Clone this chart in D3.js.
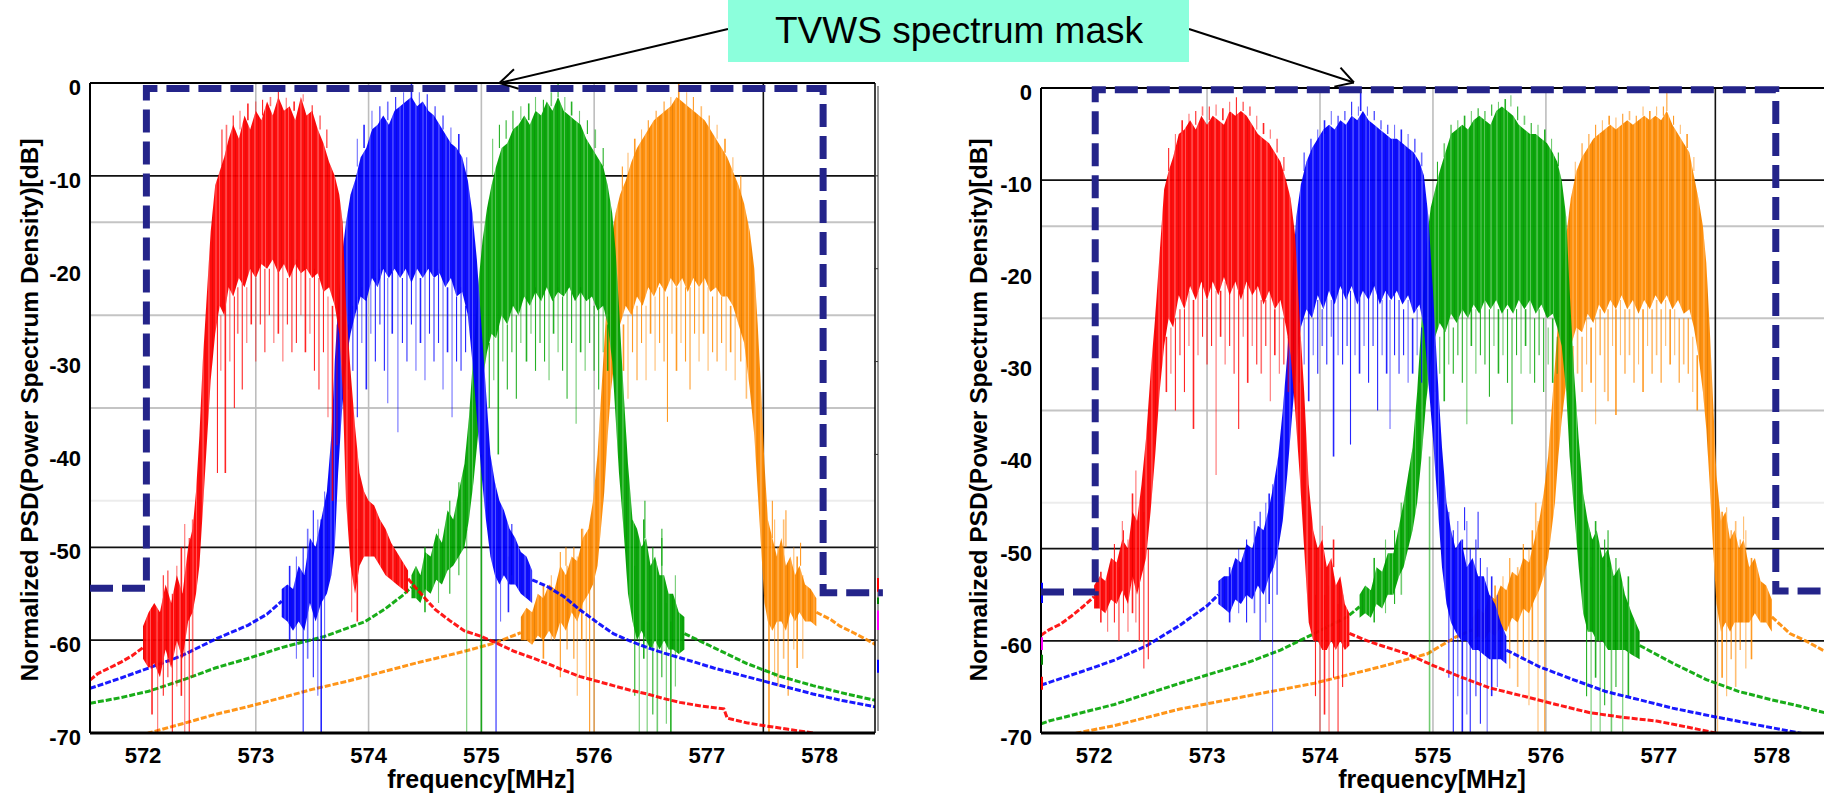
<!DOCTYPE html>
<html><head><meta charset="utf-8">
<script src="https://cdn.jsdelivr.net/npm/d3@7"></script>
<style>
body{margin:0;background:#fff}
svg{display:block}
text{font-family:"Liberation Sans",Arial,Helvetica,sans-serif}
</style>
</head><body>
<svg id="c" width="1824" height="798"></svg>
<script>
// ---------------- axes / grid ----------------
const xTicks = [572,573,574,575,576,577,578];
const yTicks = [0,-10,-20,-30,-40,-50,-60,-70];
const blackGridDb = [-10,-50,-60];
const grayGridDb = [-15,-25,-35];
const faintGridDb = [-45];
const grayGridF = [573,574,575,576];
const blackGridF = [577.5];
const xTitle = "frequency[MHz]";
const yTitle = "Normalized PSD(Power Spectrum Density)[dB]";
const titleText = "TVWS spectrum mask";
const seriesOrder = ["orange","green","blue","red"];
const seriesColors = {red:"#ff0000", blue:"#0000ff", green:"#00a400", orange:"#ff8a00"};

// ---------------- spectrum mask ----------------
const L_maskF  = [571.53,572.03,572.03,578.03,578.03,578.56];
const L_maskDb = [-54.4,-54.4,-0.6,-0.6,-54.9,-54.9];
const R_maskF  = [571.53,572.01,572.01,578.035,578.035,578.6];
const R_maskDb = [-54.7,-54.7,-0.2,-0.2,-54.6,-54.6];

// ---------------- LEFT chart ----------------
const L_red_tailL = [[571.53,-64.3],[571.6,-63.6],[571.7,-63.0],[571.8,-62.4],[571.9,-61.7],[572.0,-60.8]];
const L_red_band = [[572.0,-58.5,-62],[572.05,-57,-63],[572.1,-56,-62.5],[572.15,-57,-64],[572.2,-54,-61],[572.25,-56,-63],[572.3,-53,-60],[572.35,-55,-62],[572.4,-50,-58],[572.44,-48,-57],[572.47,-44,-55],[572.5,-38,-52],[572.53,-30,-46],[572.56,-24,-40],[572.6,-16,-32],[572.64,-11,-27],[572.68,-9.5,-24],[572.72,-8,-25],[572.76,-6,-22],[572.8,-4.5,-23],[572.85,-6,-21],[572.9,-3.5,-22],[572.95,-5,-20],[573.0,-3,-21],[573.05,-4,-19.5],[573.1,-2,-20],[573.15,-3.5,-19],[573.2,-1.5,-20.5],[573.25,-3,-19.5],[573.3,-2.5,-21],[573.35,-4,-19.5],[573.4,-1.5,-20.5],[573.45,-3.5,-20],[573.5,-3,-21],[573.55,-5,-20.5],[573.6,-6.5,-22.5],[573.65,-8.5,-22],[573.7,-10,-24],[573.74,-12,-27],[573.77,-15,-33],[573.8,-24,-45],[573.84,-31,-52],[573.88,-37,-55],[573.92,-42,-52],[573.96,-44,-51],[574.0,-45,-51],[574.05,-45.5,-51],[574.1,-47,-52],[574.15,-48,-53],[574.2,-49.5,-53.5],[574.25,-50.5,-54],[574.3,-51.5,-54.5],[574.35,-52.5,-55]];
const L_red_tailR = [[574.35,-53.4],[574.45,-54.8],[574.59,-56.7],[574.72,-57.9],[574.85,-59.0],[575.0,-59.6],[575.15,-60.4],[575.29,-61.2],[575.45,-61.9],[575.58,-62.5],[575.72,-63.2],[575.87,-63.9],[576.02,-64.4],[576.17,-64.9],[576.32,-65.4],[576.47,-65.8],[576.62,-66.3],[576.76,-66.7],[576.95,-67.1],[577.15,-67.4],[577.18,-68.4],[577.35,-68.9],[577.5,-69.2],[577.72,-69.6],[577.94,-70.0],[578.2,-70.6],[578.5,-71.2]];
const L_red_spikes = [[572.08,-56.5,-68],[572.13,-58,-70],[572.18,-53,-66],[572.22,-52.5,-64],[572.26,-55,-70],[572.3,-52,-65],[572.34,-50,-66],[572.37,-47.5,-70],[572.41,-49,-70],[572.44,-47,-64],
 [572.66,-24,-42],[572.69,-25,-31],[572.73,-23,-42],[572.77,-22,-30],[572.81,-23,-35],[572.84,-22,-27],[572.88,-21,-33],[572.92,-22,-28],[572.96,-20,-26],[573.0,-21,-30],[573.04,-19,-26],[573.08,-20,-29],[573.12,-20,-25],[573.16,-19,-28],[573.2,-20,-27],[573.24,-19,-30],[573.28,-21,-26],[573.32,-20,-29],[573.36,-19,-28],[573.4,-20,-25],[573.44,-20,-29],[573.48,-21,-27],[573.52,-20,-31],[573.56,-21,-33],[573.6,-22,-29],[573.64,-23,-36],[573.68,-24,-45],[573.72,-26,-39],
 [572.7,-9,-5],[572.74,-8,-4.5],[572.8,-6,-3.5],[572.86,-5,-3],[572.93,-4,-2.2],[573.0,-3.5,-2],[573.06,-3.5,-1.8],[573.13,-2.5,-1.5],[573.2,-2,-0.4],[573.27,-3,-1.6],[573.34,-3,-2],[573.42,-2,-1.2],[573.5,-3.5,-2.4],[573.57,-5,-3.5],[573.63,-7,-5],
 [573.85,-45,-57],[573.9,-48,-58]];

const L_blue_tailL = [[571.53,-65.2],[571.8,-64.1],[572.05,-63.0],[572.34,-61.7],[572.64,-59.9],[572.93,-58.4],[573.1,-57.2],[573.23,-55.8]];
const L_blue_band = [[573.23,-54.5,-57.5],[573.28,-54,-58],[573.33,-54.5,-59],[573.38,-52,-58],[573.43,-53,-59],[573.48,-49,-56],[573.53,-50,-58],[573.58,-47,-56],[573.63,-44,-55],[573.67,-38,-53],[573.7,-30,-50],[573.73,-24,-42],[573.76,-19,-36],[573.8,-15,-30],[573.84,-12,-27],[573.88,-10.5,-25],[573.93,-8,-23],[573.98,-7,-23.5],[574.03,-5,-21],[574.08,-4.5,-22],[574.13,-3.5,-20],[574.18,-4.5,-21],[574.23,-3,-20],[574.28,-2.5,-21],[574.33,-2,-20],[574.38,-1.5,-21.5],[574.43,-2.5,-20],[574.48,-2,-21],[574.53,-3,-20],[574.58,-3.5,-21],[574.63,-4.5,-20.5],[574.68,-5.5,-22],[574.73,-6.5,-21],[574.78,-7,-23],[574.83,-8,-22.5],[574.88,-10.5,-25],[574.92,-14,-30],[574.96,-19,-36],[575.0,-26,-42],[575.04,-33,-47],[575.08,-40,-51],[575.12,-43,-53],[575.16,-45,-54],[575.2,-46,-53],[575.25,-48,-54],[575.3,-49,-54],[575.35,-50.5,-55],[575.4,-51,-55.5],[575.45,-52.5,-56]];
const L_blue_tailR = [[575.45,-53.5],[575.58,-54.2],[575.73,-55.3],[575.87,-56.7],[576.05,-58.3],[576.17,-59.3],[576.32,-60.1],[576.47,-60.8],[576.62,-61.4],[576.76,-61.9],[576.9,-62.4],[577.06,-63.0],[577.28,-63.7],[577.5,-64.4],[577.72,-65.1],[577.94,-65.8],[578.2,-66.5],[578.5,-67.2]];
const L_blue_spikes = [[573.3,-52,-60],[573.36,-51,-62],[573.42,-50,-70],[573.46,-48,-62],[573.51,-46,-64],[573.55,-47,-66],[573.58,-47,-70],[573.61,-44,-60],
 [573.82,-26,-33],[573.86,-24,-31],[573.9,-23,-36],[573.94,-22,-28],[573.98,-23,-33],[574.02,-21,-27],[574.06,-21,-30],[574.1,-20,-26],[574.14,-20,-31],[574.17,-21,-34.5],[574.21,-20,-27],[574.26,-20,-37.6],[574.3,-21,-28],[574.34,-20,-30],[574.38,-21,-26],[574.42,-20,-31],[574.46,-21,-28],[574.5,-20,-32],[574.54,-20,-27],[574.58,-21,-30],[574.62,-20,-28],[574.66,-21,-33],[574.7,-22,-29],[574.74,-21,-36],[574.78,-23,-30],[574.82,-22,-31],[574.86,-24,-29],
 [573.9,-9,-6],[573.96,-7,-4.5],[574.03,-5,-3],[574.1,-4.5,-2.5],[574.17,-4,-2],[574.24,-3,-1.5],[574.31,-2.5,-1],[574.38,-2,0],[574.45,-2.5,-1],[574.52,-3,-1.2],[574.59,-4,-2.5],[574.66,-5,-3.5],[574.73,-6.5,-4.8],[574.8,-7.5,-5.5],[574.87,-10,-8],
 [575.13,-50,-70],[575.2,-53,-46.5],[575.27,-53,-47.5],[575.17,-50,-58],[575.24,-51,-57]];

const L_green_tailL = [[571.53,-66.8],[571.8,-66.2],[572.05,-65.5],[572.35,-64.3],[572.64,-63.0],[572.95,-61.9],[573.23,-60.8],[573.61,-59.6],[573.97,-58.0],[574.15,-56.6],[574.3,-55.2],[574.38,-54.3]];
const L_green_band = [[574.38,-53,-55.5],[574.42,-52,-55.5],[574.46,-53,-56],[574.5,-50.5,-54.5],[574.55,-51,-55],[574.6,-48.5,-53.5],[574.65,-49.5,-54],[574.7,-46,-52.5],[574.75,-47,-52],[574.8,-44,-51],[574.85,-41,-50],[574.89,-36,-47],[574.93,-29,-43],[574.97,-22,-38],[575.01,-17,-32],[575.05,-13.5,-29],[575.09,-11,-27],[575.13,-9,-27.5],[575.18,-7,-25],[575.23,-6.5,-26],[575.28,-5,-24],[575.33,-4.5,-25],[575.38,-3.5,-23],[575.43,-4.5,-24],[575.48,-3,-22.5],[575.53,-3.5,-23.5],[575.58,-2,-22],[575.63,-3,-23.5],[575.68,-1.5,-22.5],[575.73,-3,-23],[575.78,-3.5,-22],[575.83,-4,-23.5],[575.88,-4.5,-22.5],[575.93,-6,-23.5],[575.98,-7,-23],[576.03,-8,-24.5],[576.08,-9,-24],[576.12,-11,-26],[576.16,-14,-30],[576.19,-18,-36],[576.22,-24,-42],[576.26,-33,-48],[576.3,-41,-55],[576.34,-47,-58],[576.38,-48,-60],[576.42,-50,-59],[576.46,-49,-60],[576.5,-52,-61],[576.54,-51,-60],[576.58,-53,-61],[576.62,-53,-60],[576.66,-55,-61],[576.7,-55,-61],[576.75,-57,-61.5],[576.8,-57.5,-61]];
const L_green_tailR = [[576.8,-59.3],[577.06,-60.8],[577.35,-62.5],[577.65,-63.9],[577.94,-64.9],[578.24,-65.8],[578.5,-66.5]];
const L_green_spikes = [[574.5,-50,-57],[574.62,-48,-56],[574.72,-45,-55],[574.8,-43,-53],
 [576.36,-52,-66],[576.4,-55,-70],[576.44,-47,-62],[576.47,-58,-70],[576.52,-50,-68],[576.56,-60,-70],[576.6,-49,-64],[576.64,-56,-69],[576.68,-58,-70],[576.72,-53,-65],[576.45,-49,-45],[576.6,-52,-48],
 [575.07,-28,-35],[575.11,-27,-32],[575.15,-26,-40],[575.19,-25,-30],[575.23,-26,-33],[575.27,-24,-29],[575.31,-25,-34],[575.35,-23,-28],[575.4,-23,-30],[575.44,-23,-27],[575.48,-22,-31],[575.52,-23,-28],[575.56,-22,-30],[575.6,-22,-32],[575.64,-23,-27],[575.68,-22,-29],[575.72,-23,-31],[575.76,-22,-34],[575.8,-22,-28],[575.84,-23,-36.7],[575.88,-22,-29],[575.92,-23,-31],[575.96,-23,-28],[576.0,-24,-31],[576.04,-24,-33],[576.08,-24,-29],[576.12,-26,-31],
 [575.1,-10,-6],[575.16,-7,-4.5],[575.22,-6,-4],[575.28,-5,-3],[575.35,-4,-2.5],[575.42,-4,-2.2],[575.48,-3,-1.5],[575.55,-3,-1.8],[575.62,-2.5,-1],[575.68,-1.5,0],[575.74,-3,-1.5],[575.8,-3.5,-2],[575.87,-4.5,-3],[575.94,-5.5,-4],[576.01,-7,-5],[576.08,-9,-7],
 [574.87,-48,-70],[575.0,-40,-70]];

const L_orange_tailL = [[571.9,-70.6],[572.05,-70.0],[572.35,-69.0],[572.64,-68.0],[572.95,-67.1],[573.23,-66.2],[573.5,-65.3],[573.82,-64.4],[574.1,-63.5],[574.41,-62.5],[574.65,-61.8],[574.85,-61.2],[575.12,-60.3],[575.35,-59.2]];
const L_orange_band = [[575.35,-57.5,-60],[575.4,-56.5,-60],[575.45,-57,-60.5],[575.5,-55,-59.5],[575.55,-55.5,-60],[575.6,-54,-59],[575.65,-54.5,-60],[575.7,-52,-58],[575.75,-53,-59],[575.8,-51,-57],[575.85,-51.5,-58],[575.9,-49,-56],[575.95,-48,-55],[575.99,-45,-54],[576.03,-40,-52],[576.06,-34,-48],[576.09,-28,-44],[576.12,-22,-38],[576.15,-17,-33],[576.19,-14,-29],[576.23,-12,-26],[576.28,-10.5,-24],[576.33,-8.5,-25],[576.38,-7,-23],[576.43,-6,-24],[576.48,-5,-22],[576.53,-4,-23],[576.58,-3.5,-21.5],[576.63,-3,-22.5],[576.68,-2.5,-21],[576.73,-1.5,-22],[576.78,-2,-21],[576.83,-2.5,-22.5],[576.88,-3,-21],[576.93,-3.5,-22],[576.98,-4,-21],[577.03,-5,-22.5],[577.08,-6,-22],[577.13,-7,-23],[577.18,-8,-23],[577.23,-9.5,-24],[577.28,-11,-26],[577.33,-13,-28],[577.38,-16,-33],[577.42,-20,-38],[577.45,-26,-44],[577.48,-33,-50],[577.51,-41,-56],[577.54,-47,-58],[577.58,-49,-59],[577.62,-51,-58],[577.66,-49,-58],[577.7,-52,-59],[577.74,-51,-57],[577.78,-53,-58],[577.82,-52,-57],[577.87,-54,-58],[577.92,-54.5,-58],[577.97,-55.5,-58.5]];
const L_orange_tailR = [[577.97,-57.0],[578.1,-57.8],[578.18,-58.5],[578.3,-59.2],[578.47,-60.3],[578.5,-60.5]];
const L_orange_spikes = [[575.55,-54,-62],[575.62,-53,-60],[575.7,-50.5,-64],[575.76,-52,-61],[575.82,-50,-62],[575.85,-51,-66],[575.89,-48,-60],[575.93,-50,-64],[575.96,-48,-70],[576.0,-47,-70],[575.75,-52,-50],[575.9,-50,-48],
 [577.55,-50,-70],[577.6,-47,-64],[577.63,-50,-65],[577.68,-47,-62],[577.72,-52,-66],[577.77,-50,-61],[577.8,-51,-63],[577.85,-53,-62],[577.58,-49,-45],[577.7,-50,-46],[577.83,-52,-49.5],
 [576.22,-27,-34],[576.26,-26,-31],[576.3,-25,-34],[576.34,-24,-29],[576.38,-24,-32],[576.42,-23,-28],[576.46,-24,-32],[576.5,-22,-27],[576.54,-23,-31],[576.58,-22,-28],[576.62,-22,-30],[576.65,-23,-36.5],[576.69,-21,-27],[576.73,-22,-31],[576.77,-21,-28],[576.81,-22,-30],[576.85,-22,-33],[576.89,-21,-27],[576.93,-22,-30],[576.97,-21,-27],[577.01,-22,-31],[577.05,-23,-29],[577.09,-22,-30],[577.13,-23,-28],[577.17,-23,-31],[577.21,-24,-29],[577.25,-25,-32],[577.3,-26,-30],[577.35,-28,-34],
 [576.25,-12,-9],[576.3,-10,-7.5],[576.36,-8,-6],[576.42,-7,-5],[576.48,-5.5,-4],[576.55,-4.5,-3],[576.62,-3.5,-2],[576.68,-3,-1.5],[576.75,-2,0],[576.82,-2.5,-1],[576.88,-3,-1.5],[576.95,-4,-2.5],[577.02,-5,-3.5],[577.09,-6,-4.5],[577.16,-7.5,-6],[577.23,-9.5,-8],[577.3,-12,-10]];

// ---------------- RIGHT chart ----------------
const R_red_tailL = [[571.53,-59.4],[571.6,-58.8],[571.7,-58.2],[571.8,-57.3],[571.9,-56.3],[572.0,-55.2]];
const R_red_band = [[572.0,-54,-56.5],[572.05,-53,-56.5],[572.1,-53.5,-57],[572.15,-51,-55.5],[572.2,-51.5,-56],[572.25,-49,-54.5],[572.3,-50,-56],[572.34,-46,-53],[572.38,-47,-55],[572.42,-43,-53],[572.46,-38,-51],[572.5,-31,-46],[572.54,-25,-40],[572.58,-18,-33],[572.62,-11,-28],[572.66,-9,-25],[572.7,-7.5,-26],[572.75,-5,-22.5],[572.8,-4.5,-24],[572.85,-3.5,-21.5],[572.9,-4.5,-23],[572.95,-3,-21],[573.0,-4,-23],[573.05,-3,-21],[573.1,-3.5,-22.5],[573.15,-4,-20.5],[573.2,-2.5,-22.5],[573.25,-3,-21],[573.3,-2.5,-23],[573.35,-3,-21],[573.4,-4,-22.5],[573.45,-5,-21.5],[573.5,-5.5,-23.5],[573.55,-6,-22],[573.6,-7,-24],[573.65,-8,-23],[573.7,-10,-26],[573.74,-12,-29],[573.78,-16,-35],[573.82,-25,-42],[573.86,-33,-50],[573.9,-43,-58],[573.94,-48,-60],[573.98,-50,-60],[574.02,-49,-61],[574.06,-52,-61],[574.1,-51,-60],[574.14,-54,-61],[574.18,-53,-60],[574.22,-56,-61],[574.26,-57,-60.5]];
const R_red_tailR = [[574.26,-59.2],[574.42,-60.0],[574.54,-60.5],[574.77,-61.4],[574.95,-62.4],[575.2,-63.7],[575.5,-65.1],[575.8,-66.0],[576.09,-66.9],[576.39,-67.8],[576.68,-68.3],[576.98,-68.7],[577.27,-69.4],[577.5,-70.0],[577.8,-70.7]];
const R_red_spikes = [[572.06,-52.5,-58],[572.12,-53,-59],[572.18,-49.5,-58],[572.22,-52,-60],[572.26,-48,-57],[572.3,-49,-59],[572.34,-44,-57],[572.37,-41.5,-58],[572.4,-47,-60],[572.44,-46,-63],[572.48,-50,-62],[572.25,-50,-47],
 [572.64,-27,-33],[572.68,-26,-31],[572.72,-25,-35],[572.76,-24,-29],[572.8,-24,-33],[572.84,-22,-28],[572.88,-23,-37],[572.92,-22,-29],[572.96,-21,-27],[573.0,-23,-30],[573.04,-21,-28],[573.08,-22,-42],[573.12,-22,-27],[573.16,-21,-30],[573.2,-22,-28],[573.24,-21,-31],[573.28,-22,-37],[573.32,-22,-27],[573.36,-21,-32],[573.4,-22,-28],[573.44,-21,-30],[573.48,-23,-31],[573.52,-23,-28],[573.56,-22,-34],[573.6,-24,-29],[573.64,-23,-31],[573.68,-25,-30],[573.72,-27,-33],
 [572.66,-9,-6.5],[572.72,-7,-5],[572.78,-5,-3.5],[572.84,-4,-2.8],[572.9,-4,-2.5],[572.96,-3,-2],[573.02,-3.5,-2],[573.08,-3,-1.8],[573.14,-3.5,-2.2],[573.2,-2.5,-1.5],[573.26,-3,-1],[573.32,-2.5,-1.5],[573.38,-3,-2],[573.44,-4.5,-3],[573.5,-5,-3.8],[573.56,-5.5,-4.5],[573.62,-7,-5.5],[573.68,-9,-7.5],
 [573.96,-55,-66],[574.0,-52,-70],[574.04,-55,-68],[574.08,-54,-70],[574.12,-53,-64],[574.16,-56,-70],[574.2,-55,-65],[574.02,-50,-47.5],[574.12,-52,-49]];

const R_blue_tailL = [[571.53,-64.8],[571.9,-63.3],[572.18,-62.1],[572.47,-60.5],[572.76,-58.3],[573.0,-56.2],[573.1,-55.0]];
const R_blue_band = [[573.1,-53.5,-56],[573.15,-53,-56.5],[573.2,-53,-57],[573.25,-51,-55.5],[573.3,-51.5,-56],[573.35,-49.5,-55],[573.4,-50,-55.5],[573.45,-47.5,-54],[573.5,-48,-55],[573.55,-45.5,-53],[573.59,-43,-52],[573.63,-40,-50],[573.67,-35,-47],[573.71,-29,-42],[573.75,-21,-36],[573.79,-14,-30],[573.83,-10.5,-26],[573.88,-8,-24],[573.93,-6.5,-25],[573.98,-5.5,-22.5],[574.03,-4.5,-24],[574.08,-4,-22],[574.13,-4.5,-23.5],[574.18,-3.5,-21.5],[574.23,-4,-23],[574.28,-3,-21.5],[574.33,-3.5,-23.5],[574.38,-2.5,-22],[574.43,-3.5,-23],[574.48,-4,-21.5],[574.53,-4.5,-23.5],[574.58,-5,-22],[574.63,-5.5,-23],[574.68,-5.5,-22],[574.73,-6,-23.5],[574.78,-6.5,-22.5],[574.83,-7,-24.5],[574.88,-8,-23.5],[574.92,-9.5,-26],[574.96,-14,-32],[575.0,-22,-38],[575.04,-31,-45],[575.08,-39,-52],[575.12,-45,-56],[575.16,-48,-58],[575.2,-50,-59],[575.25,-49,-60],[575.3,-52,-60],[575.35,-51,-61],[575.4,-53,-61],[575.45,-53,-61.5],[575.5,-55,-62],[575.55,-56,-62],[575.6,-58,-62],[575.65,-59.5,-62.5]];
const R_blue_tailR = [[575.65,-61.0],[575.94,-62.8],[576.24,-64.2],[576.53,-65.5],[576.83,-66.4],[577.12,-67.3],[577.48,-68.2],[577.86,-69.1],[578.16,-69.8],[578.5,-70.6]];
const R_blue_spikes = [[573.2,-52,-58],[573.28,-50,-57],[573.35,-49,-58],[573.42,-47,-57],[573.47,-46,-60],[573.52,-45,-58],[573.55,-44,-56],[573.58,-43,-70],[573.62,-42,-55],
 [575.14,-46,-64],[575.18,-48,-70],[575.22,-47,-66],[575.26,-49,-70],[575.3,-47,-68],[575.33,-50,-70],[575.38,-49,-66],[575.42,-51,-69],[575.48,-52,-70],[575.52,-53,-66],[575.57,-55,-65],[575.28,-48,-45.5],[575.4,-50,-46],
 [573.82,-27,-32],[573.86,-25,-30],[573.9,-24,-34],[573.94,-25,-29],[573.98,-23,-31],[574.02,-24,-28],[574.06,-22,-30],[574.1,-23,-27],[574.12,-22,-40],[574.16,-22,-29],[574.2,-21,-30],[574.24,-22,-28],[574.27,-22,-38.7],[574.31,-22,-29],[574.35,-22,-31],[574.39,-22,-28],[574.43,-22,-32],[574.47,-21,-28],[574.51,-22,-35],[574.55,-23,-29],[574.59,-22,-31],[574.62,-23,-37],[574.66,-22,-29],[574.7,-23,-31],[574.74,-24,-29],[574.78,-23,-32],[574.82,-25,-31],[574.86,-24,-29],[574.9,-26,-32],
 [573.86,-9,-7],[573.92,-7,-5.5],[573.98,-6,-4.5],[574.04,-5,-3.5],[574.1,-4,-2.5],[574.16,-4,-3],[574.22,-3.5,-2.5],[574.28,-3,-1.5],[574.34,-3,-2],[574.36,-2.5,-0.5],[574.42,-3,-2],[574.48,-3.5,-2.5],[574.54,-4.5,-3.5],[574.6,-5,-4],[574.66,-5.5,-4],[574.72,-6,-4.5],[574.78,-6.5,-5],[574.84,-7,-5.5],[574.9,-8.5,-7]];

const R_green_tailL = [[571.53,-69.0],[571.6,-68.7],[572.18,-66.9],[572.76,-64.6],[573.35,-62.4],[573.65,-61.0],[573.95,-59.2],[574.24,-57.4],[574.35,-56.3]];
const R_green_band = [[574.35,-55,-57.5],[574.4,-54,-57],[574.45,-54.5,-57.5],[574.5,-52,-56],[574.55,-52.5,-56.5],[574.6,-50.5,-55],[574.65,-50.5,-55],[574.7,-47.5,-53],[574.74,-45,-52],[574.78,-42,-50],[574.82,-39,-48],[574.86,-33,-45],[574.9,-25,-40],[574.94,-17,-34],[574.98,-13,-30],[575.02,-11,-27],[575.06,-9,-25.5],[575.11,-7,-26.5],[575.16,-5,-24.5],[575.21,-4.5,-25.5],[575.26,-4,-24],[575.31,-4.5,-25],[575.36,-3.5,-23.5],[575.41,-3,-24.5],[575.46,-3.5,-23],[575.51,-4,-24],[575.56,-2.5,-23],[575.61,-2,-24.5],[575.66,-2.5,-23.5],[575.71,-3,-24.5],[575.76,-4,-23],[575.81,-4.5,-24],[575.86,-5,-23],[575.91,-5,-24.5],[575.96,-5.5,-23.5],[576.01,-6,-25],[576.06,-7,-24.5],[576.1,-8,-26],[576.14,-10,-28],[576.18,-14,-33],[576.21,-22,-40],[576.25,-31,-46],[576.29,-38,-52],[576.33,-44,-57],[576.37,-47,-59],[576.41,-49,-59],[576.45,-48,-60],[576.5,-51,-60],[576.55,-50,-61],[576.6,-53,-61],[576.65,-52,-61],[576.7,-55,-61],[576.76,-57,-61.5],[576.83,-59,-62]];
const R_green_tailR = [[576.83,-60.5],[577.12,-62.4],[577.42,-64.2],[577.71,-65.5],[578.0,-66.4],[578.25,-67.1],[578.5,-67.9]];
const R_green_spikes = [[574.48,-51,-58],[574.58,-49,-57],[574.66,-48,-56],[574.72,-45,-55],
 [576.36,-50,-66],[576.4,-52,-70],[576.44,-47,-64],[576.48,-55,-70],[576.52,-49,-67],[576.58,-54,-70],[576.62,-51,-65],[576.68,-55,-70],[576.73,-53,-66],[576.39,-50,-48.2],[576.55,-52,-48],
 [574.97,-40,-70],
 [575.02,-28,-33],[575.06,-27,-31],[575.1,-26,-34],[575.14,-25,-30],[575.18,-26,-31],[575.22,-25,-29],[575.26,-24,-32],[575.3,-25,-36.5],[575.34,-24,-28],[575.38,-24,-31],[575.42,-24,-29],[575.46,-23,-30],[575.5,-24,-33.5],[575.54,-23,-28],[575.58,-24,-31],[575.62,-24,-29],[575.66,-24,-32],[575.7,-25,-36.5],[575.74,-24,-29],[575.78,-23,-31],[575.82,-24,-28],[575.86,-23,-31],[575.9,-25,-32],[575.94,-24,-29],[575.98,-25,-33],[576.02,-26,-30],[576.06,-25,-32],[576.1,-27,-31],
 [575.04,-10,-8],[575.1,-7.5,-6],[575.16,-5.5,-4],[575.22,-5,-3.5],[575.28,-4.5,-3],[575.34,-4,-2.5],[575.4,-3.5,-2.2],[575.46,-3.5,-2.5],[575.52,-3,-1.8],[575.58,-2.5,-1.5],[575.64,-2.5,-1.2],[575.69,-2,-0.8],[575.75,-3.5,-2],[575.81,-4,-3],[575.87,-5,-3.8],[575.93,-5.5,-4],[575.99,-6,-4.5],[576.05,-7,-5.5],[576.11,-8.5,-7]];

const R_orange_tailL = [[571.7,-70.5],[571.85,-70.0],[572.18,-69.2],[572.76,-67.4],[573.35,-66.0],[573.95,-64.6],[574.54,-62.8],[574.95,-61.4],[575.2,-59.6],[575.35,-58.8]];
const R_orange_band = [[575.35,-57.5,-60],[575.4,-56.5,-59.5],[575.45,-57,-60],[575.5,-55,-59],[575.55,-55.5,-59.5],[575.6,-54,-58.5],[575.65,-54.5,-59],[575.7,-52.5,-57.5],[575.75,-53,-58],[575.8,-51,-56.5],[575.85,-51.5,-57],[575.9,-49,-55.5],[575.94,-47,-54.5],[575.98,-44,-53],[576.02,-40,-51],[576.05,-35,-48],[576.08,-30,-45],[576.11,-25,-40],[576.14,-20,-36],[576.18,-16,-32],[576.22,-12,-28],[576.27,-9,-26],[576.32,-7.5,-26.5],[576.37,-6.5,-24.5],[576.42,-5.5,-25.5],[576.47,-5,-23.5],[576.52,-4.5,-24.5],[576.57,-4,-23],[576.62,-4.5,-24],[576.67,-4,-22.5],[576.72,-3.5,-24],[576.77,-4,-23],[576.82,-3.5,-24.5],[576.87,-3,-23],[576.92,-3.5,-24],[576.97,-3,-22.5],[577.02,-3.5,-23.5],[577.07,-2.5,-22.5],[577.12,-4,-24],[577.17,-5,-23],[577.22,-6,-24.5],[577.27,-7,-24],[577.31,-9.5,-26],[577.35,-12,-29],[577.39,-15,-33],[577.42,-19,-37],[577.45,-26,-43],[577.48,-34,-50],[577.51,-42,-56],[577.55,-47,-59],[577.59,-46,-58],[577.63,-49,-59],[577.67,-48,-58],[577.71,-50,-58],[577.75,-49,-58],[577.8,-52,-58],[577.85,-51,-57],[577.9,-53.5,-58],[577.95,-54,-58],[578.0,-55.5,-59]];
const R_orange_tailR = [[578.0,-57.4],[578.16,-59.2],[578.3,-60.0],[578.45,-61.0],[578.6,-61.8]];
const R_orange_spikes = [[575.55,-54,-61],[575.62,-53,-60],[575.68,-51,-63],[575.75,-52,-65],[575.8,-50,-62],[575.85,-50,-67],[575.88,-48,-60],[575.93,-47,-70],[575.99,-46,-70],[575.91,-50,-45],[575.8,-53,-49.5],
 [577.52,-50,-70],[577.56,-46,-64],[577.6,-45.5,-66],[577.64,-48,-62],[577.68,-47,-65],[577.72,-49,-61],[577.77,-48,-63],[577.82,-51,-62],[577.75,-49,-46.5],
 [576.24,-28,-33],[576.28,-26,-31],[576.32,-27,-33],[576.36,-25,-30],[576.4,-26,-32],[576.44,-25,-36.5],[576.48,-24,-29],[576.52,-25,-33],[576.55,-24,-34],[576.59,-23,-28],[576.62,-24,-35.5],[576.66,-23,-29],[576.7,-24,-31],[576.74,-24,-29],[576.78,-23,-32],[576.82,-25,-30],[576.86,-24,-33],[576.9,-23,-28],[576.94,-24,-31],[576.98,-23,-29],[577.02,-24,-32],[577.06,-23,-28],[577.1,-24,-30],[577.14,-24,-29],[577.18,-25,-32],[577.22,-25,-30],[577.26,-25,-31],[577.3,-27,-33],[577.34,-29,-35],
 [576.26,-10,-8],[576.32,-8,-6],[576.38,-6.5,-5],[576.44,-5.5,-4],[576.5,-5,-3.5],[576.56,-4,-3],[576.62,-4.5,-3.2],[576.68,-4,-2.8],[576.74,-3.5,-2.5],[576.8,-4,-3],[576.86,-3,-2],[576.92,-3.5,-2.5],[576.98,-3,-2],[577.04,-3,-2],[577.07,-2.5,-0.5],[577.13,-4,-3],[577.19,-5,-4],[577.25,-6.5,-5],[577.31,-9,-7.5]];

// small coloured marks at the chart edges (clipped legend remnants)
const L_edgeMarks = [["red",-53.3,-54.8],["green",-55.4,-56.1],["#ff00ff",-56.8,-58.9],["blue",-62.1,-63.5]];
const R_edgeMarks = [["blue",-53.7,-55.9],["#ff00ff",-59.6,-61.0],["green",-61.5,-62.6],["red",-63.9,-65.3]];

// ---------------- assemble ----------------
const charts = [
  {id:"L", xDomain:[571.53,578.49], xRange:[90,875], yRange:[733,83], maskF:L_maskF, maskDb:L_maskDb,
   series:{red:{tailL:L_red_tailL,band:L_red_band,tailR:L_red_tailR,spikes:L_red_spikes},
           blue:{tailL:L_blue_tailL,band:L_blue_band,tailR:L_blue_tailR,spikes:L_blue_spikes},
           green:{tailL:L_green_tailL,band:L_green_band,tailR:L_green_tailR,spikes:L_green_spikes},
           orange:{tailL:L_orange_tailL,band:L_orange_band,tailR:L_orange_tailR,spikes:L_orange_spikes}},
   edgeMarks:L_edgeMarks, edgeX:878, rightAxis:true, yTitleX:38, xTitleX:481, arrow:{f:575.16,db:0,from:[728,29]}},
  {id:"R", xDomain:[571.53,578.5], xRange:[1041,1828.3], yRange:[733,88], maskF:R_maskF, maskDb:R_maskDb,
   series:{red:{tailL:R_red_tailL,band:R_red_band,tailR:R_red_tailR,spikes:R_red_spikes},
           blue:{tailL:R_blue_tailL,band:R_blue_band,tailR:R_blue_tailR,spikes:R_blue_spikes},
           green:{tailL:R_green_tailL,band:R_green_band,tailR:R_green_tailR,spikes:R_green_spikes},
           orange:{tailL:R_orange_tailL,band:R_orange_band,tailR:R_orange_tailR,spikes:R_orange_spikes}},
   edgeMarks:R_edgeMarks, edgeX:1042, rightAxis:false, yTitleX:987, xTitleX:1432, arrow:{f:574.3,db:0.6,from:[1189,29]}}
];

const svg = d3.select("#c");
svg.append("rect").attr("width",1824).attr("height",798).attr("fill","#fff");
const defs = svg.append("defs");
// streak texture for the dense noise bands
const pat = defs.append("pattern").attr("id","streaks").attr("patternUnits","userSpaceOnUse")
  .attr("width",23).attr("height",6);
[[1.5,0.9,"#fff",0.45],[5,0.7,"#000",0.15],[8.5,1,"#fff",0.35],[12,0.6,"#fff",0.5],
 [15.5,0.8,"#000",0.12],[18.5,1.1,"#fff",0.4],[21.5,0.6,"#000",0.1]].forEach(s=>{
  pat.append("rect").attr("x",s[0]).attr("y",0).attr("width",s[1]).attr("height",6)
    .attr("fill",s[2]).attr("fill-opacity",s[3]);
});

charts.forEach(ch => {
  const x = d3.scaleLinear().domain(ch.xDomain).range(ch.xRange);
  const y = d3.scaleLinear().domain([-70,0]).range(ch.yRange);
  const [x0,x1] = ch.xRange, [yB,yT] = ch.yRange;
  const g = svg.append("g");
  const clipId = "clip"+ch.id;
  defs.append("clipPath").attr("id",clipId)
    .append("rect").attr("x",x0).attr("y",yT).attr("width",x1-x0).attr("height",yB-yT);

  // grid
  const grid = g.append("g");
  grid.selectAll(".fg").data(faintGridDb).join("line")
    .attr("x1",x0).attr("x2",x1).attr("y1",d=>y(d)).attr("y2",d=>y(d))
    .attr("stroke","#ececec").attr("stroke-width",2);
  grid.selectAll(".gg").data(grayGridDb).join("line")
    .attr("x1",x0).attr("x2",x1).attr("y1",d=>y(d)).attr("y2",d=>y(d))
    .attr("stroke","#c4c4c4").attr("stroke-width",2);
  grid.selectAll(".gv").data(grayGridF).join("line")
    .attr("x1",d=>x(d)).attr("x2",d=>x(d)).attr("y1",yT).attr("y2",yB)
    .attr("stroke","#bdbdbd").attr("stroke-width",1.6);
  grid.selectAll(".bg").data(blackGridDb).join("line")
    .attr("x1",x0).attr("x2",x1).attr("y1",d=>y(d)).attr("y2",d=>y(d))
    .attr("stroke","#111").attr("stroke-width",1.8);
  grid.selectAll(".bv").data(blackGridF).join("line")
    .attr("x1",d=>x(d)).attr("x2",d=>x(d)).attr("y1",yT).attr("y2",yB)
    .attr("stroke","#111").attr("stroke-width",1.6);

  // series
  const data = g.append("g").attr("clip-path",`url(#${clipId})`);
  const line = d3.line().x(d=>x(d[0])).y(d=>y(d[1]));
  const area = d3.area().x(d=>x(d[0])).y0(d=>y(d[2])).y1(d=>y(d[1]));
  seriesOrder.forEach(name => {
    const s = ch.series[name], col = seriesColors[name];
    const sg = data.append("g");
    [s.tailL, s.tailR].forEach(t => {
      sg.append("path").attr("d",line(t)).attr("fill","none").attr("stroke",col)
        .attr("stroke-width",3).attr("stroke-dasharray","6,2").attr("opacity",0.9);
    });
    sg.selectAll(".sp").data(s.spikes).join("line")
      .attr("x1",d=>x(d[0])).attr("x2",d=>x(d[0])).attr("y1",d=>y(d[1])).attr("y2",d=>y(d[2]))
      .attr("stroke",col).attr("stroke-width",(d,i)=> i%3===0 ? 1.6 : 1.1)
      .attr("opacity",(d,i)=> i%2===0 ? 0.85 : 0.55);
    sg.append("path").attr("d",area(s.band)).attr("fill",col).attr("opacity",0.95);
    sg.append("path").attr("d",area(s.band)).attr("fill","url(#streaks)");
  });

  // frame
  const fr = g.append("g");
  fr.append("line").attr("x1",x0).attr("x2",x1).attr("y1",yT).attr("y2",yT).attr("stroke","#000").attr("stroke-width",2);
  fr.append("line").attr("x1",x0).attr("x2",x1).attr("y1",yB).attr("y2",yB).attr("stroke","#000").attr("stroke-width",3);
  fr.append("line").attr("x1",x0).attr("x2",x0).attr("y1",yT).attr("y2",yB).attr("stroke","#000").attr("stroke-width",2);
  fr.append("line").attr("x1",x1).attr("x2",x1).attr("y1",yT).attr("y2",yB).attr("stroke","#000").attr("stroke-width",1.5);
  if (ch.rightAxis) {
    fr.append("line").attr("x1",x1+3).attr("x2",x1+3).attr("y1",yT+3).attr("y2",yB-2).attr("stroke","#333").attr("stroke-width",1);
    fr.selectAll(".rt").data(yTicks.slice(1,7)).join("line")
      .attr("x1",x1-1).attr("x2",x1+3).attr("y1",d=>y(d)).attr("y2",d=>y(d)).attr("stroke","#333").attr("stroke-width",1);
  }
  fr.selectAll(".em").data(ch.edgeMarks).join("line")
    .attr("x1",ch.edgeX).attr("x2",ch.edgeX).attr("y1",d=>y(d[1])).attr("y2",d=>y(d[2]))
    .attr("stroke",d=>d[0]).attr("stroke-width",2);

  // mask
  const maskPts = ch.maskF.map((f,i)=>[f,ch.maskDb[i]]);
  g.append("path").attr("d",line(maskPts)).attr("fill","none")
    .attr("stroke","#24248a").attr("stroke-width",7).attr("stroke-dasharray","23,9");

  // tick labels
  g.selectAll(".xl").data(xTicks).join("text")
    .attr("x",d=>x(d)).attr("y",763).attr("text-anchor","middle")
    .attr("font-size",22).attr("font-weight","bold").text(d=>d);
  g.selectAll(".yl").data(yTicks).join("text")
    .attr("x",x0-9).attr("y",d=>y(d)+4).attr("dy","0.36em").attr("text-anchor","end")
    .attr("font-size",22).attr("font-weight","bold").text(d=>d);
  // titles
  g.append("text").attr("x",ch.xTitleX).attr("y",788).attr("text-anchor","middle")
    .attr("font-size",25).attr("font-weight","bold").text(xTitle);
  g.append("text").attr("transform",`translate(${ch.yTitleX},410) rotate(-90)`).attr("text-anchor","middle")
    .attr("font-size",24.5).attr("font-weight","bold").text(yTitle);

  // arrow from the title box
  const tip = [x(ch.arrow.f), y(ch.arrow.db)], st = ch.arrow.from;
  const ang = Math.atan2(st[1]-tip[1], st[0]-tip[0]);
  const ah = 20, spread = Math.PI/6;
  const ag = svg.append("g").attr("stroke","#000").attr("stroke-width",2).attr("fill","none");
  ag.append("line").attr("x1",st[0]).attr("y1",st[1]).attr("x2",tip[0]).attr("y2",tip[1]);
  [ang-spread, ang+spread].forEach(a => {
    ag.append("line").attr("x1",tip[0]).attr("y1",tip[1])
      .attr("x2",tip[0]+ah*Math.cos(a)).attr("y2",tip[1]+ah*Math.sin(a));
  });
});

// title box
svg.append("rect").attr("x",728).attr("y",0).attr("width",461).attr("height",62).attr("fill","#8cffdc");
svg.append("text").attr("x",959).attr("y",43).attr("text-anchor","middle")
  .attr("font-size",37).attr("fill","#000").text(titleText);
</script>
</body></html>
